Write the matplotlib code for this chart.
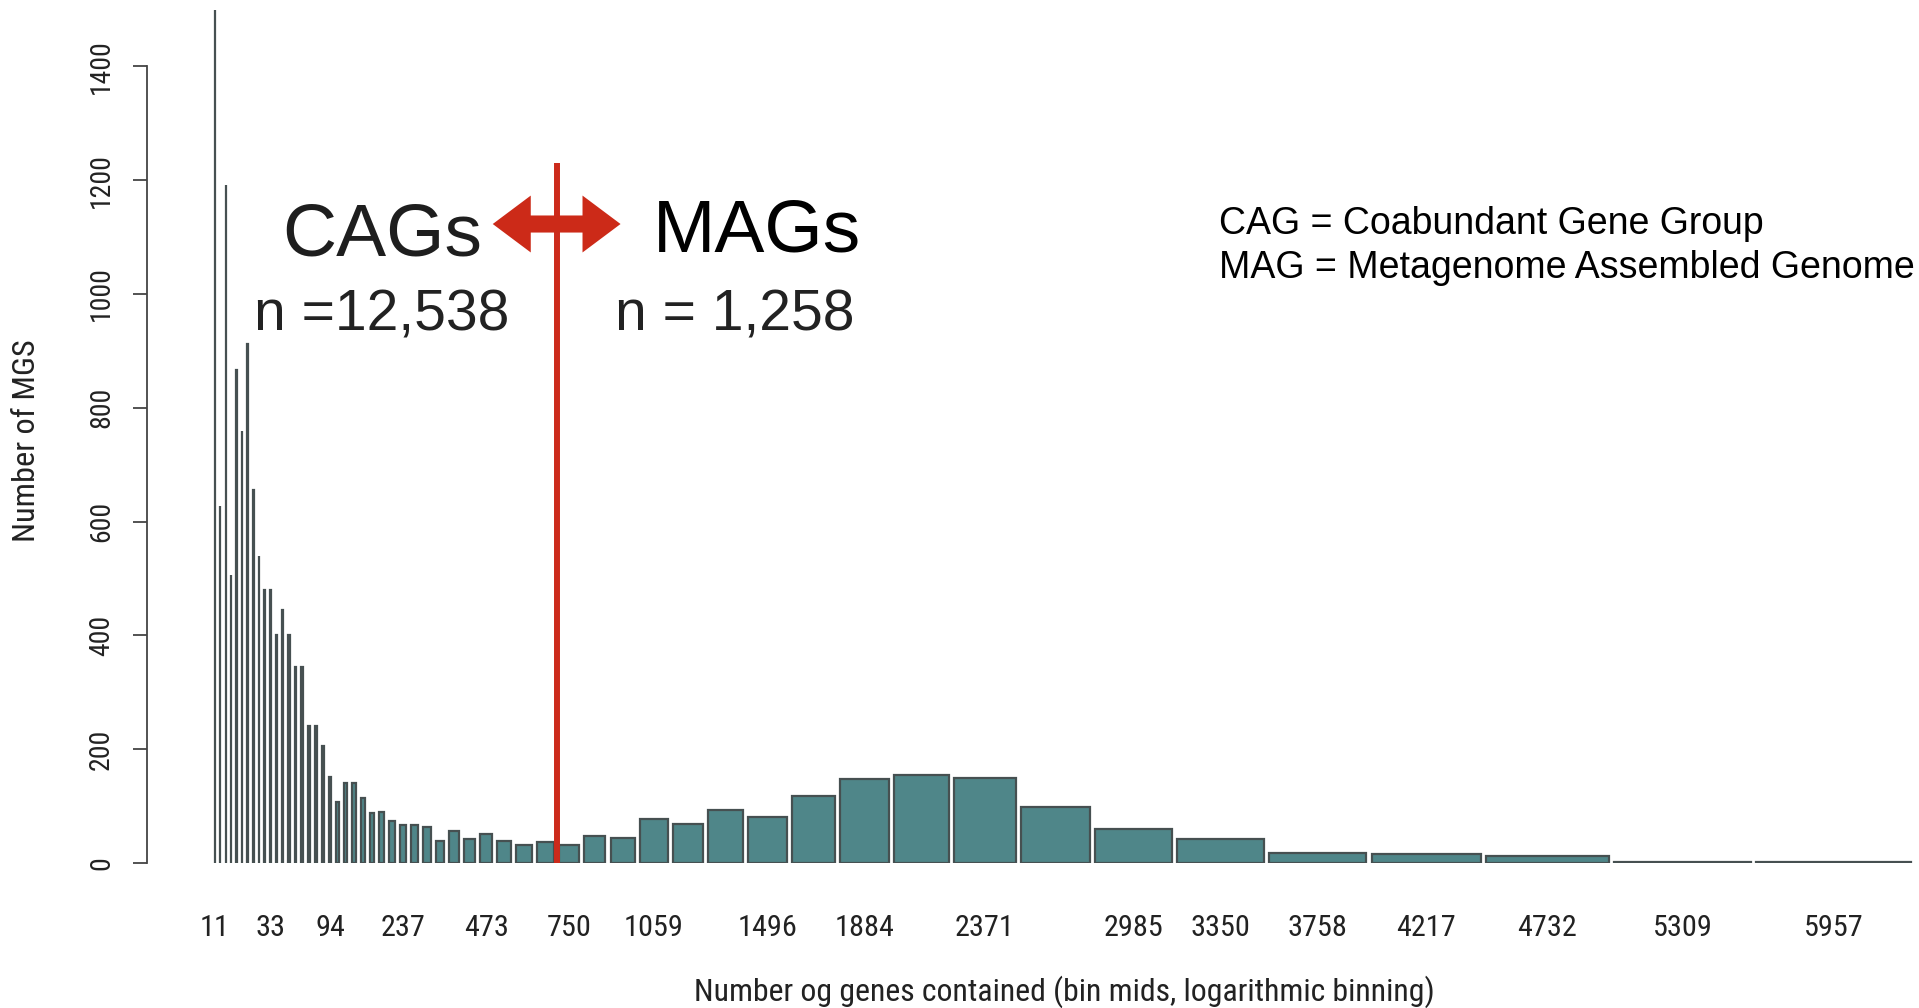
import os
import numpy as np
import matplotlib
matplotlib.use("Agg")
import matplotlib.pyplot as plt
from matplotlib import font_manager
from matplotlib.font_manager import FontProperties
from matplotlib.patches import FancyArrow

# Number of MGS per logarithmic bin of gene count (20 bins per decade, starting at 10 genes)
counts = [1500, 628, 1192, 506, 866, 760, 912, 655, 540, 479,
          479, 400, 445, 400, 345, 345, 240, 240, 206, 152,
          108, 141, 141, 115, 87, 90, 73, 66, 66, 64,
          39, 57, 43, 51, 38, 32, 37, 32, 48, 44,
          77, 69, 94, 80, 117, 147, 155, 149, 98, 59,
          42, 18, 15, 12, 1, 1]

# Bin mids printed under the bars
tick_labels = [11, 33, 94, 237, 473, 750, 1059, 1496, 1884, 2371,
               2985, 3350, 3758, 4217, 4732, 5309, 5957]

bins_per_decade = 20
first_exponent = 1.0
first_mag_bin = 37          # bins from here on count as MAGs

x_title = "Number og genes contained (bin mids, logarithmic binning)"
y_title = "Number of MGS"
legend_lines = ["CAG = Coabundant Gene Group",
                "MAG = Metagenome Assembled Genome"]

# ---------------------------------------------------------------------------
W, H = 1919, 1008
DPI = 100
SANS = "Liberation Sans"


def _font_files():
    files = {f.fname for f in font_manager.fontManager.ttflist}
    try:
        files |= set(font_manager.findSystemFonts())
    except Exception:
        pass
    return sorted(files)


def narrow_file():
    """Path of a narrow/condensed sans for the axis text, or None."""
    wanted = ("LiberationSansNarrow-Regular", "NotoSans-Condensed.",
              "NotoSans-CondensedRegular", "RobotoCondensed-Regular",
              "Roboto_Condensed-Regular", "OpenSans_Condensed-Regular",
              "OpenSansCondensed-Regular", "OpenSans-CondensedRegular",
              "DejaVuSansCondensed.")
    files = _font_files()
    for key in wanted:
        for fn in files:
            if key in os.path.basename(fn):
                return fn
    return None


NARROW_FILE = narrow_file()


def axis_font(size):
    if NARROW_FILE:
        return FontProperties(fname=NARROW_FILE, size=size)
    return FontProperties(family=SANS, size=size)


def fx(x):
    return x / W


def fy(y):
    return 1 - y / H


fig = plt.figure(figsize=(W / DPI, H / DPI), dpi=DPI)
fig.patch.set_facecolor("white")
renderer = fig.canvas.get_renderer()


def fitted_font(text, width_px, rotation=0):
    """Axis font sized so that `text` spans about width_px pixels."""
    probe = fig.text(0, 0, text, fontproperties=axis_font(24), rotation=rotation)
    ext = probe.get_window_extent(renderer)
    probe.remove()
    span = ext.height if rotation else ext.width
    return axis_font(24 * width_px / span)


# logarithmic bin edges and barplot-style layout (bar width = bin width, gap = 0.2 * mean width)
n_bins = len(counts)
k0 = int(round(first_exponent * bins_per_decade))
edges = 10 ** (np.arange(k0, k0 + n_bins + 1) / bins_per_decade)
widths = np.diff(edges)
space = 0.2 * widths.mean()
rights = np.cumsum(space + widths)
lefts = rights - widths
centers = lefts + widths / 2

tick_bins = np.searchsorted(edges, tick_labels, side="right") - 1

# plot region: y axis at x=147px, zero line at y=863px
left_px, base_px = 147, 863
ax = fig.add_axes([fx(left_px), 1 - base_px / H, 1 - fx(left_px), base_px / H])
x_lo = lefts[0] - 0.04 * (rights[-1] - lefts[0])
px_per_unit = 0.225
ax.set_xlim(x_lo, x_lo + (W - left_px) / px_per_unit)
y_px_per_unit = 0.569
ax.set_ylim(0, base_px / y_px_per_unit)

ax.bar(lefts, counts, width=widths, align="edge",
       color="#4f8689", edgecolor="#465051", linewidth=1.6, zorder=2)

# CAG / MAG boundary
line_x = (rights[first_mag_bin - 1] + lefts[first_mag_bin]) / 2
ax.vlines(line_x, 0, 1230, color="#cc2a1b", linewidth=4.3, zorder=3)

arrow_y = 1123
for direction in (-1, 1):
    ax.add_patch(FancyArrow(line_x, arrow_y, direction * 284, 0,
                            width=30, head_width=100, head_length=169,
                            length_includes_head=True, color="#cc2a18",
                            linewidth=0, zorder=4))

# axes styling
for side in ("top", "right", "bottom"):
    ax.spines[side].set_visible(False)
ax.spines["left"].set_bounds(0, 1400)
ax.spines["left"].set_color("#444444")
ax.spines["left"].set_linewidth(1.3)

ytick_fp = fitted_font("1400", 55, rotation=90)
ax.set_yticks(np.arange(0, 1401, 200))
ax.tick_params(axis="y", length=10, width=1.3, color="#444444", pad=13,
               labelcolor="#222222", labelrotation=90)
for lab in ax.get_yticklabels():
    lab.set_fontproperties(ytick_fp)
    lab.set_va("center")

xtick_fp = fitted_font("1059", 60)
ax.set_xticks(centers[tick_bins], labels=[str(v) for v in tick_labels])
ax.tick_params(axis="x", length=0, pad=37, labelcolor="#222222")
for lab in ax.get_xticklabels():
    lab.set_fontproperties(xtick_fp)

ax.set_xlabel(x_title, fontproperties=fitted_font(x_title, 740), color="#222222")
ax.xaxis.set_label_coords((1064 - left_px) / (W - left_px), -(992 - base_px) / base_px)
ax.xaxis.label.set_va("center")

ax.set_ylabel(y_title, fontproperties=fitted_font(y_title, 203, rotation=90),
              color="#222222")
ax.yaxis.set_label_coords((27 - left_px) / (W - left_px), (base_px - 441) / base_px)
ax.yaxis.label.set_va("center")

# group annotations
n_cag = sum(counts[:first_mag_bin])
n_mag = sum(counts[first_mag_bin:])
fig.text(fx(382), fy(255), "CAGs", ha="center", va="baseline",
         fontsize=54, fontfamily=SANS, color="#1e1e1e")
fig.text(fx(757), fy(251), "MAGs", ha="center", va="baseline",
         fontsize=54, fontfamily=SANS, color="black")
fig.text(fx(382), fy(330), f"n ={n_cag:,}", ha="center", va="baseline",
         fontsize=41, fontfamily=SANS, color="#222222")
fig.text(fx(735), fy(330), f"n = {n_mag:,}", ha="center", va="baseline",
         fontsize=41, fontfamily=SANS, color="#222222")

for text, base in zip(legend_lines, (234, 278)):
    fig.text(fx(1219), fy(base), text, ha="left", va="baseline",
             fontsize=27, fontfamily=SANS, color="black")

fig.savefig("out.png", dpi=DPI, facecolor="white")
